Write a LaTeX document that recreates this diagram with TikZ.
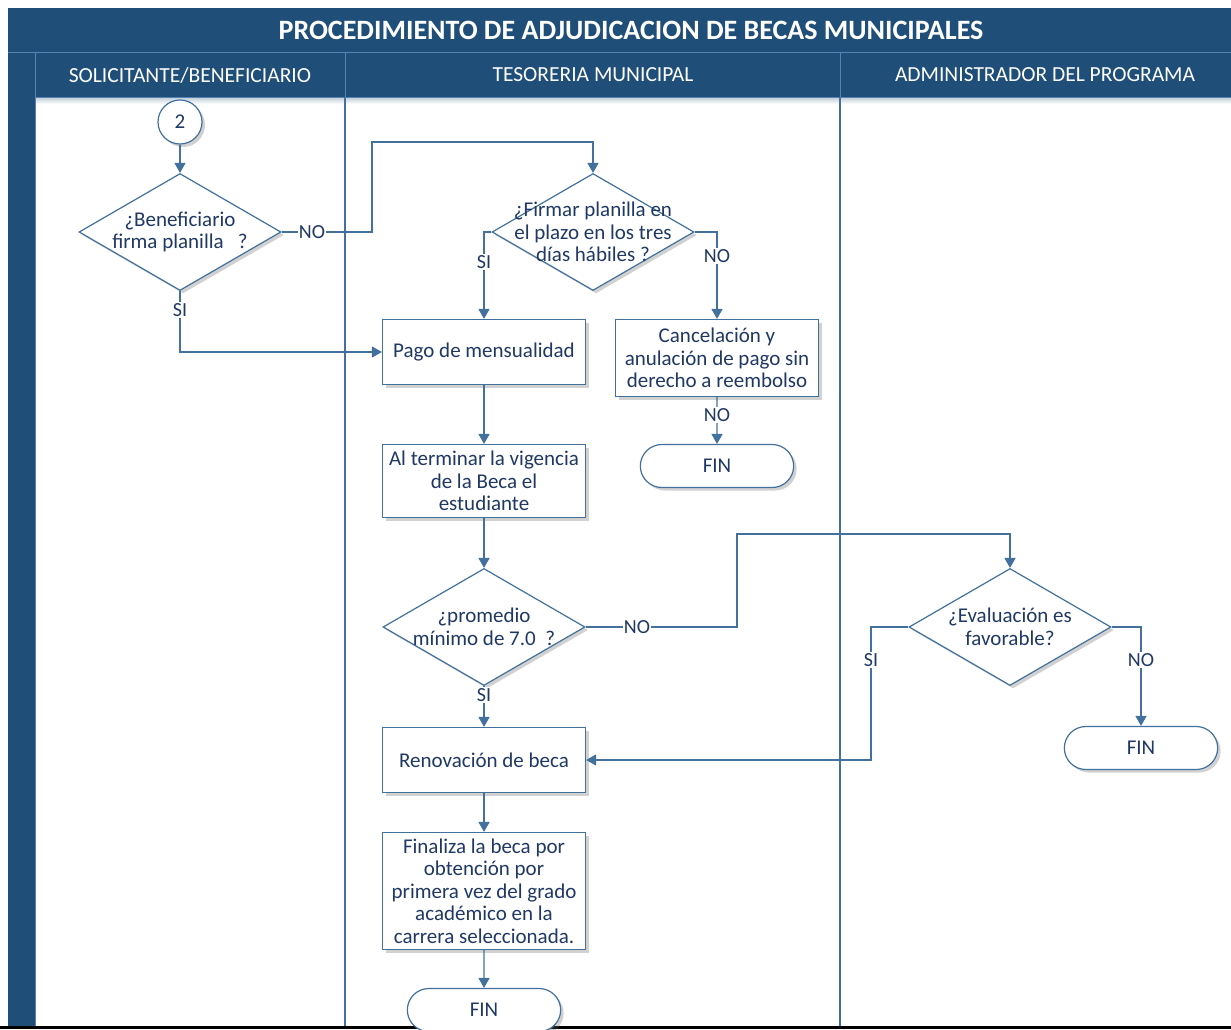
\documentclass[tikz,border=0pt]{standalone}
\usepackage{fontspec}
\setmainfont{Carlito}
\usetikzlibrary{arrows.meta,shapes.geometric,shapes.misc,shadows}
\definecolor{hdr}{RGB}{31,78,121}
\definecolor{hdrline}{RGB}{88,132,180}
\definecolor{ln}{RGB}{65,113,156}
\definecolor{txt}{RGB}{32,56,100}
\newcommand\nodefont{\fontsize{21}{22.5}\selectfont}
\newcommand\lblfont{\fontsize{20}{22}\selectfont}
\begin{document}
\begin{tikzpicture}[x=1pt,y=-1pt,
  shd/.style={drop shadow={shadow xshift=3pt,shadow yshift=-3pt,opacity=0.3,fill=black!60}},
  proc/.style={draw=ln,line width=1.2pt,fill=white,shd,rectangle,minimum width=203pt,
    minimum height=#1,inner sep=2pt,text=txt,font=\nodefont,align=center},
  term/.style={draw=ln,line width=1.2pt,fill=white,shd,rounded rectangle,minimum width=160pt,
    minimum height=43pt,text=txt,font=\nodefont},
  dec/.style={draw=ln,line width=1.2pt,fill=white,shd,diamond,minimum width=202pt,
    minimum height=117pt,inner sep=0pt},
  dectext/.style={text=txt,font=\nodefont,align=center,inner sep=0pt},
  conn/.style={draw=ln,line width=1.2pt,fill=white,shd,circle,minimum size=44pt,inner sep=0pt,
    text=txt,font=\nodefont},
  flow/.style={draw=ln,line width=1.4pt},
  arr/.style={flow,-{Triangle[length=10pt,width=11pt]}},
  lbl/.style={fill=white,text=txt,font=\lblfont,inner sep=1pt},
  lane/.style={text=white,font=\fontsize{21.5}{24}\selectfont}
]
\useasboundingbox (0,0) rectangle (1231,1029);

% title band, lane headers and left strip
\fill[hdr] (8,8) rectangle (1231,97);
\fill[hdr] (8,97) rectangle (35,1026);
\shade[top color=hdr!30,bottom color=white] (35,97) rectangle (1231,104);
\draw[hdrline,line width=1pt] (8,52) -- (1231,52);
\draw[hdrline,line width=1pt] (35,52) -- (35,1026);
\draw[hdrline,line width=1pt] (345,52) -- (345,97);
\draw[hdrline,line width=1pt] (840,52) -- (840,97);
\draw[hdrline,line width=1pt] (35,97) -- (1231,97);
\draw[ln,line width=1.4pt] (345,97) -- (345,1026);
\draw[ln,line width=1.4pt] (840,97) -- (840,1026);
\fill[black] (0,1026) rectangle (1231,1029);

\node[text=white,font=\fontsize{28}{32}\selectfont\bfseries] (title) at (631,30)
  {PROCEDIMIENTO DE ADJUDICACION DE BECAS MUNICIPALES};
\node[lane] (lane1) at (190,75) {SOLICITANTE/BENEFICIARIO};
\node[lane] (lane2) at (593,75) {TESORERIA MUNICIPAL};
\node[lane] (lane3) at (1045,75) {ADMINISTRADOR DEL PROGRAMA};

% flow nodes
\node[conn] (c2) at (180,122) {2};
\node[dec] (d1) at (180,232) {};
\node[dectext] (d1t) at (d1.center) {¿Beneficiario\\firma planilla \ \ ?};
\node[dec] (d2) at (593,232) {};
\node[dectext] (d2t) at (d2.center) {¿Firmar planilla en\\el plazo en los tres\\días hábiles ?};
\node[proc=65pt] (pago) at (484,352) {Pago de mensualidad};
\node[proc=77pt] (canc) at (717,358) {Cancelación y\\anulación de pago sin\\derecho a reembolso};
\node[term] (fin1) at (717,466) {FIN};
\node[proc=73pt] (vig) at (484,481) {Al terminar la vigencia\\de la Beca el\\estudiante};
\node[dec] (d3) at (484,627) {};
\node[dectext] (d3t) at (d3.center) {¿promedio\\mínimo de 7.0 \ ?};
\node[dec] (d4) at (1010,627) {};
\node[dectext] (d4t) at (d4.center) {¿Evaluación es\\favorable?};
\node[term] (fin2) at (1141,748) {FIN};
\node[proc=65pt] (renov) at (484,760) {Renovación de beca};
\node[proc=117pt] (fina) at (484,891)
  {Finaliza la beca por\\obtención por\\primera vez del grado\\académico en la\\carrera seleccionada.};
\node[term] (fin3) at (484,1010) {FIN};

% bend points
\coordinate (k1) at (372,142);
\coordinate (k2) at (737,534);
\coordinate (k3) at (871,760);

% connectors
\draw[arr] (c2) -- (d1.north);
\draw[arr] (d1.east) -| (k1) -| (d2.north);
\node[lbl] (no1) at (312,232) {NO};
\draw[arr] (d1.south) |- (pago.west);
\node[lbl] (si1) at (180,310) {SI};
\draw[arr] (d2.west) -| (pago.north);
\node[lbl] (si2) at (484,262) {SI};
\draw[arr] (d2.east) -| (canc.north);
\node[lbl] (no2) at (717,256) {NO};
\draw[arr] (canc) -- (fin1);
\node[lbl] (no3) at (717,415) {NO};
\draw[arr] (pago) -- (vig);
\draw[arr] (vig) -- (d3.north);
\draw[arr] (d3.east) -| (k2) -| (d4.north);
\node[lbl] (no4) at (637,627) {NO};
\draw[arr] (d3.south) -- (renov.north);
\node[lbl] (si3) at (484,695) {SI};
\draw[arr] (d4.west) -| (k3) -- (renov.east);
\node[lbl] (si4) at (871,660) {SI};
\draw[arr] (d4.east) -| (fin2.north);
\node[lbl] (no5) at (1141,660) {NO};
\draw[arr] (renov) -- (fina);
\draw[arr] (fina) -- (fin3);
\end{tikzpicture}
\end{document}
